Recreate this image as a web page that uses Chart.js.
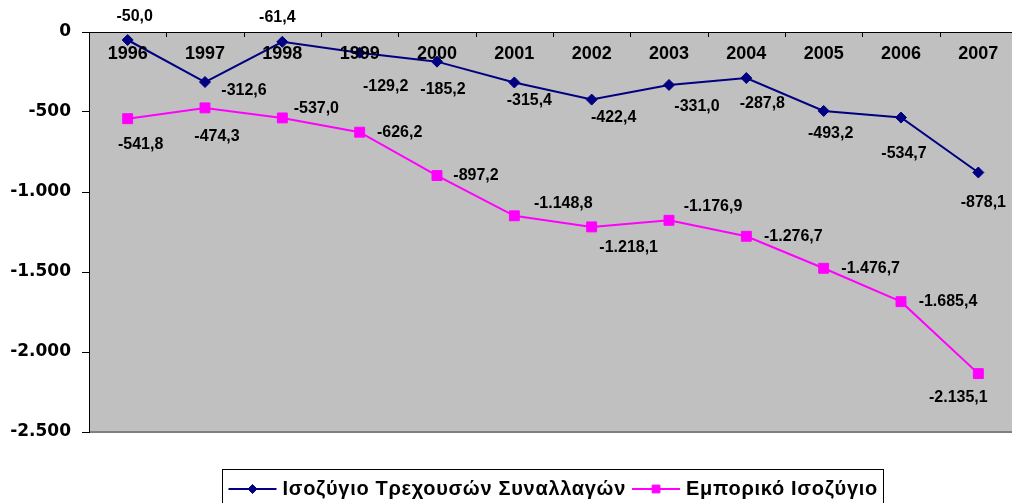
<!DOCTYPE html>
<html lang="el">
<head>
<meta charset="utf-8">
<script src="https://cdn.jsdelivr.net/npm/chart.js@4/dist/chart.umd.min.js"></script>
<style>
  html, body { margin: 0; padding: 0; background: #fff; overflow: hidden; }
  #wrap { width: 1017px; height: 503px; position: relative; }
</style>
</head>
<body>
<div id="wrap"><canvas id="c" width="1017" height="503"></canvas></div>
<script>
// Years on the category axis
const years = ['1996', '1997', '1998', '1999', '2000', '2001', '2002', '2003', '2004', '2005', '2006', '2007'];

// Current account balance
const currentAccount = [-50.0, -312.6, -61.4, -129.2, -185.2, -315.4, -422.4, -331.0, -287.8, -493.2, -534.7, -878.1];

// Trade balance
const tradeBalance = [-541.8, -474.3, -537.0, -626.2, -897.2, -1148.8, -1218.1, -1176.9, -1276.7, -1476.7, -1685.4, -2135.1];

// Value axis ticks
const yTicks = [0, -500, -1000, -1500, -2000, -2500];

const seriesNames = ['Ισοζύγιο Τρεχουσών Συναλλαγών', 'Εμπορικό Ισοζύγιο'];

// Label placement (offset of each value label from its point, px)
const labelShiftA = [[7, -23], [39, 9], [-5, -24], [26, 34], [6, 28], [15, 18], [22, 18], [28, 22], [16, 26], [7, 23], [3, 36], [5, 30]];
const labelShiftB = [[13, 26], [12, 29], [34, -9], [40, 0], [39, 0], [49, -12], [37, 21], [44, -14], [47, 0], [47, 0], [47, 0], [-20, 24]];

// Greek number format: dot for thousands, comma for decimals
function grNumber(v, decimals) {
  const neg = v < 0;
  const s = Math.abs(v).toFixed(decimals);
  let [ip, dp] = s.split('.');
  ip = ip.replace(/\B(?=(\d{3})+(?!\d))/g, '.');
  return (neg ? '-' : '') + ip + (dp !== undefined ? ',' + dp : '');
}

const LABEL_FONT = 'bold 16px "Liberation Sans", Arial, sans-serif';

const plotBackground = {
  id: 'plotBackground',
  beforeDraw(chart) {
    const { ctx, chartArea: a } = chart;
    ctx.save();
    ctx.fillStyle = '#ffffff';
    ctx.fillRect(0, 0, chart.width, chart.height);
    ctx.fillStyle = '#c0c0c0';
    ctx.fillRect(a.left, a.top, a.right - a.left, a.bottom - a.top);
    ctx.strokeStyle = '#808080';
    ctx.lineWidth = 2;
    ctx.beginPath();
    ctx.moveTo(a.left, a.bottom);
    ctx.lineTo(a.right, a.bottom);
    ctx.stroke();
    ctx.restore();
  }
};

// Category labels and inward tick marks for the top axis
const categoryAxis = {
  id: 'categoryAxis',
  afterDatasetsDraw(chart) {
    const { ctx, chartArea: a } = chart;
    const x = chart.scales.x;
    ctx.save();
    ctx.strokeStyle = '#000';
    ctx.lineWidth = 1;
    for (let i = 0; i <= years.length; i++) {
      const px = Math.round(x.getPixelForValue(i - 0.5)) + 0.5;
      ctx.beginPath();
      ctx.moveTo(px, a.top);
      ctx.lineTo(px, a.top + 5);
      ctx.stroke();
    }
    ctx.fillStyle = '#000';
    ctx.font = 'bold 18px "Liberation Sans", Arial, sans-serif';
    ctx.textAlign = 'center';
    ctx.textBaseline = 'middle';
    years.forEach((y, i) => {
      ctx.fillText(y, x.getPixelForValue(i), a.top + 22);
    });
    ctx.restore();
  }
};

// Value labels next to each point
const valueLabels = {
  id: 'valueLabels',
  afterDatasetsDraw(chart) {
    const { ctx } = chart;
    const shifts = [labelShiftA, labelShiftB];
    ctx.save();
    ctx.fillStyle = '#000';
    ctx.font = LABEL_FONT;
    ctx.textAlign = 'center';
    ctx.textBaseline = 'middle';
    chart.data.datasets.forEach((ds, di) => {
      const meta = chart.getDatasetMeta(di);
      meta.data.forEach((pt, i) => {
        const [dx, dy] = shifts[di][i];
        ctx.fillText(grNumber(ds.data[i], 1), pt.x + dx, pt.y + dy);
      });
    });
    ctx.restore();
  }
};

// Boxed legend with line-and-marker samples
const boxedLegend = {
  id: 'boxedLegend',
  afterDraw(chart) {
    const { ctx, chartArea: a } = chart;
    const sampleW = 48, gap = 6, padX = 6;
    const markerSize = [4.5, 5.5];
    ctx.save();
    ctx.font = 'bold 20px "Liberation Sans", Arial, sans-serif';
    if ('letterSpacing' in ctx) ctx.letterSpacing = '0.7px';
    const widths = chart.data.datasets.map(ds => ctx.measureText(ds.label).width);
    let total = padX * 2;
    widths.forEach((w, i) => { total += sampleW + gap + w + (i < widths.length - 1 ? gap : 0); });
    const cx = (a.left + a.right) / 2;
    const left = Math.round(cx - total / 2) + 0.5;
    const top = 469.5, h = 42, midY = 489;
    ctx.strokeStyle = '#000';
    ctx.lineWidth = 1;
    ctx.strokeRect(left, top, Math.round(total), h);
    let x = left + padX;
    chart.data.datasets.forEach((ds, i) => {
      ctx.strokeStyle = ds.borderColor;
      ctx.lineWidth = ds.borderWidth;
      ctx.beginPath();
      ctx.moveTo(x, midY);
      ctx.lineTo(x + sampleW, midY);
      ctx.stroke();
      ctx.fillStyle = ds.pointBackgroundColor;
      ctx.strokeStyle = ds.pointBorderColor;
      ctx.lineWidth = ds.pointBorderWidth;
      Chart.helpers.drawPoint(ctx, {
        pointStyle: ds.pointStyle, radius: markerSize[i], rotation: 0, borderWidth: ds.pointBorderWidth
      }, x + sampleW / 2, midY);
      x += sampleW + gap;
      ctx.fillStyle = '#000';
      ctx.textAlign = 'left';
      ctx.textBaseline = 'middle';
      ctx.fillText(ds.label, x, midY);
      x += widths[i] + gap;
    });
    ctx.restore();
  }
};

new Chart(document.getElementById('c'), {
  type: 'line',
  data: {
    labels: years,
    datasets: [
      {
        label: seriesNames[0],
        data: currentAccount,
        borderColor: '#000080',
        backgroundColor: '#000080',
        borderWidth: 2,
        pointStyle: 'rectRot',
        pointRadius: 5.5,
        pointBackgroundColor: '#000080',
        pointBorderColor: '#000080',
        pointBorderWidth: 1,
        tension: 0,
        clip: false
      },
      {
        label: seriesNames[1],
        data: tradeBalance,
        borderColor: '#ff00ff',
        backgroundColor: '#ff00ff',
        borderWidth: 2,
        pointStyle: 'rect',
        pointRadius: 7,
        pointBackgroundColor: '#ff00ff',
        pointBorderColor: '#ff00ff',
        pointBorderWidth: 1,
        tension: 0,
        clip: false
      }
    ]
  },
  options: {
    responsive: false,
    animation: false,
    layout: { autoPadding: false, padding: { left: 0, right: 0, top: 0, bottom: 71 } },
    plugins: {
      legend: { display: false },
      tooltip: { enabled: false }
    },
    scales: {
      x: {
        type: 'category',
        position: 'top',
        offset: true,
        grid: { display: false, offset: true },
        border: { display: true, color: '#000', width: 1 },
        ticks: { display: false },
        afterFit(scale) { scale.height = 32; }
      },
      y: {
        min: yTicks[yTicks.length - 1],
        max: yTicks[0],
        afterBuildTicks(scale) { scale.ticks = yTicks.map(v => ({ value: v })); },
        grid: { display: true, drawOnChartArea: false, drawTicks: true, tickLength: 7, color: '#000' },
        border: { display: true, color: '#000', width: 1 },
        ticks: {
          padding: 11,
          color: '#000',
          font: { family: '"DejaVu Sans", sans-serif', weight: 'bold', size: 17 },
          callback: v => grNumber(v, 0)
        },
        afterFit(scale) { scale.width = 89; }
      }
    }
  },
  plugins: [plotBackground, categoryAxis, valueLabels, boxedLegend]
});
</script>
</body>
</html>
